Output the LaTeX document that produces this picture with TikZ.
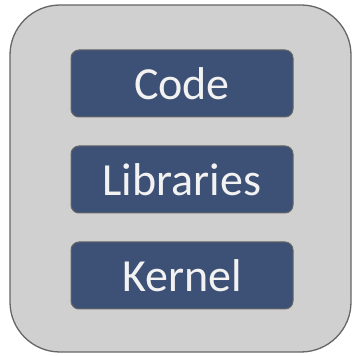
\documentclass[tikz,border=0pt]{standalone}
\usepackage{fontspec}
\setmainfont{Carlito}
\definecolor{panelgray}{HTML}{D0D0D0}
\definecolor{edgegray}{HTML}{666666}
\definecolor{layerblue}{HTML}{3D5075}
\definecolor{labelwhite}{HTML}{F2F2F2}
\begin{document}
\begin{tikzpicture}[
  x=1pt,
  y=1pt,
  panel/.style={fill=panelgray, draw=edgegray, line width=1.3pt, rounded corners=50pt},
  layer/.style={fill=layerblue, draw=edgegray, line width=1pt, rounded corners=8pt,
    minimum width=222pt, minimum height=67pt, inner sep=0pt,
    text=labelwhite, font=\fontsize{46}{50}\selectfont},
]
  \useasboundingbox (0,0) rectangle (352,356);
  \draw[panel] (10,4) rectangle (351,351);

  % stack of layers
  \node[layer] (code) at (182,272.5) {Code};
  \node[layer] (libraries) at (182,176.5) {Libraries};
  \node[layer] (kernel) at (182,80.5) {Kernel};
\end{tikzpicture}
\end{document}
